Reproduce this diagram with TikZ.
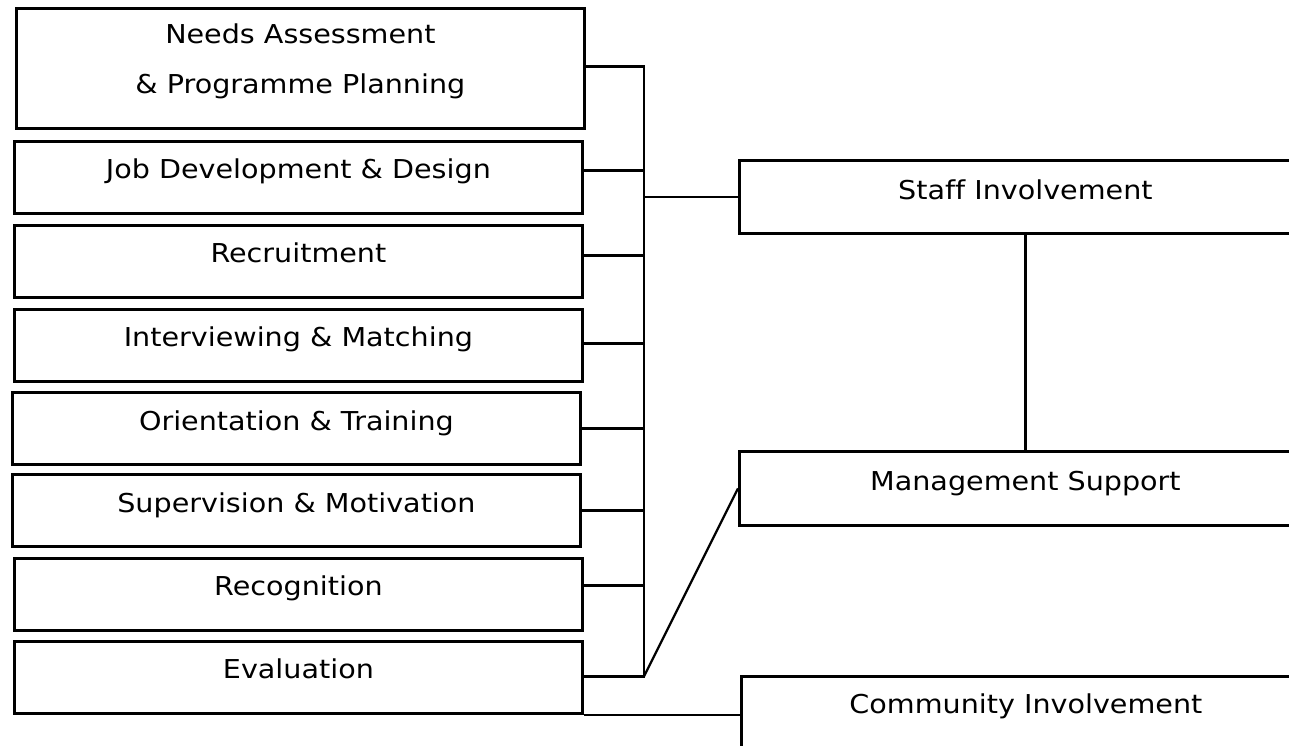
\documentclass[tikz,border=0pt]{standalone}
\usepackage{fontspec}
\setmainfont{DejaVu Sans}[FakeStretch=1.1,Ligatures=NoCommon]
\begin{document}
\begin{tikzpicture}[x=1pt,y=-1pt,
  box/.style={draw, line width=2.8pt, rectangle, anchor=north west, inner sep=0pt,
    minimum height=72pt, text height=17pt, text depth=15pt},
  conn/.style={line width=2.2pt},
  every node/.style={font=\fontsize{26}{30}\selectfont}]
\clip (0,0) rectangle (1289,745);
\fill[white] (0,0) rectangle (1289,745);
% left column
\node[box, minimum width=568pt, minimum height=120pt, align=center, text height=, text depth=] (b1) at (15,7)
  {Needs Assessment\\[20pt]\& Programme Planning\rule[-20pt]{0pt}{0pt}};
\node[box, minimum width=568pt] (b2) at (13,140) {Job Development \& Design};
\node[box, minimum width=568pt] (b3) at (13,224) {Recruitment};
\node[box, minimum width=568pt] (b4) at (13,308) {Interviewing \& Matching};
\node[box, minimum width=568pt, text height=18pt, text depth=14pt] (b5) at (11,391) {Orientation \& Training};
\node[box, minimum width=568pt, text height=18pt, text depth=14pt] (b6) at (11,473) {Supervision \& Motivation};
\node[box, minimum width=568pt] (b7) at (13,557) {Recognition};
\node[box, minimum width=568pt] (b8) at (13,640) {Evaluation};
% right column
\node[box, minimum width=572pt, minimum height=73pt, text height=18pt, text depth=13pt] (staff) at (738,159) {Staff Involvement};
\node[box, minimum width=572pt, minimum height=74pt, text height=18pt, text depth=13pt] (mgmt) at (738,450) {Management Support};
\node[box, minimum width=569pt, minimum height=72pt] (comm) at (740,675) {Community Involvement};
% bus
\coordinate (bus) at (644,0);
\draw[conn] ([yshift=2pt]b1.east) -- ([yshift=2pt]b1.east -| bus)
  -- ([yshift=1pt]b8.east -| bus) -- ([yshift=1pt]b8.east);
\draw[conn] ([yshift=7pt]b2.east) -- ([yshift=7pt]b2.east -| bus);
\draw[conn] ([yshift=6pt]b3.east) -- ([yshift=6pt]b3.east -| bus);
\draw[conn] ([yshift=2pt]b4.east) -- ([yshift=2pt]b4.east -| bus);
\draw[conn] (b5.east) -- (b5.east -| bus);
\draw[conn] (b6.east) -- (b6.east -| bus);
\draw[conn] ([yshift=9pt]b7.east) -- ([yshift=9pt]b7.east -| bus);
\draw[conn] (staff.west -| bus) -- (staff.west);
\draw[conn] (staff.south) -- (mgmt.north);
\draw[conn] ([yshift=1pt]b8.east -| bus) -- (mgmt.west);
\draw[conn] (b8.south east) -- (b8.south east -| comm.west);
\end{tikzpicture}
\end{document}
